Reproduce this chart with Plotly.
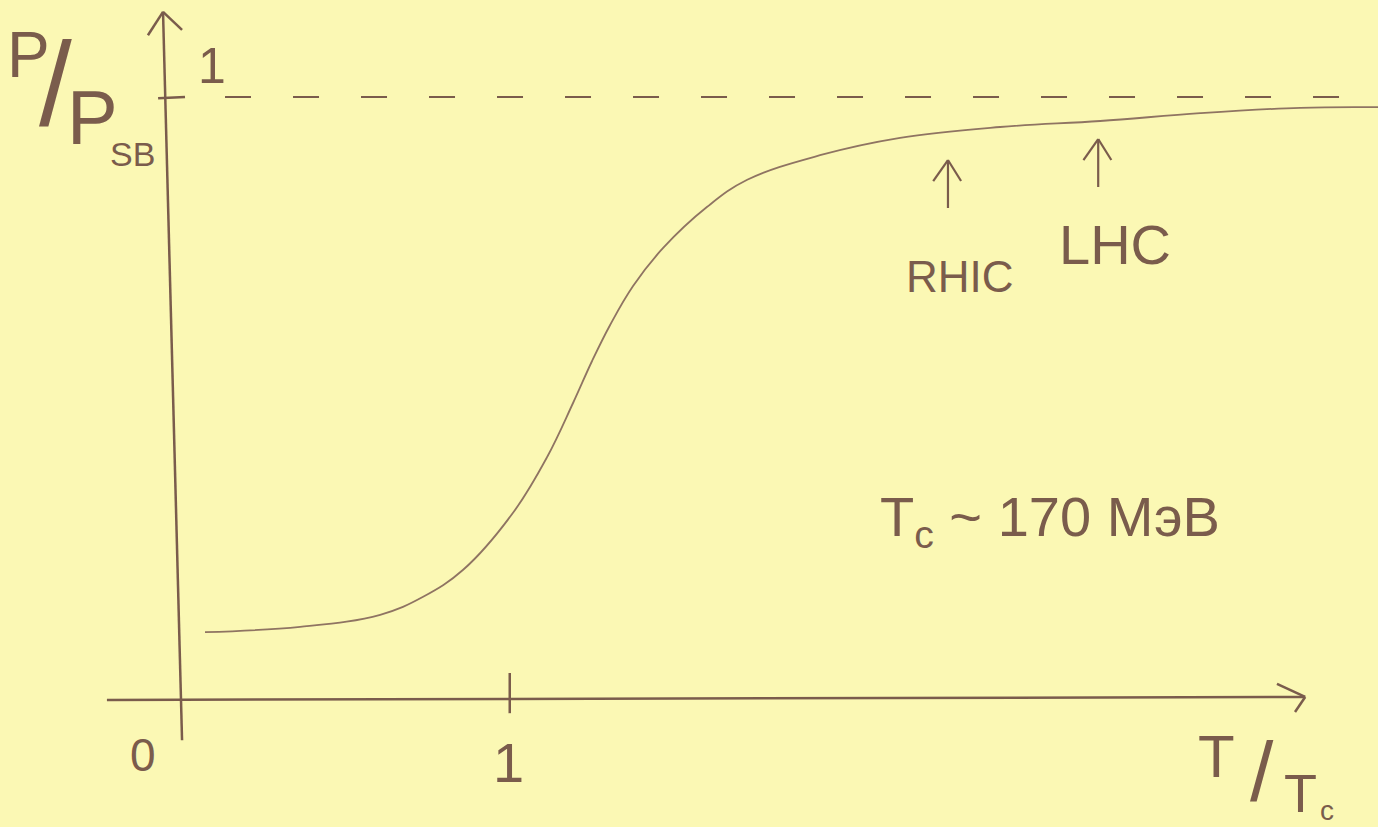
import plotly.graph_objects as go

# --- data ---
t_over_tc = [0.070, 0.360, 0.604, 0.735, 0.857, 1.009, 1.113, 1.192, 1.250, 1.305,
             1.375, 1.466, 1.601, 1.723, 1.945, 2.189, 2.494, 2.799, 3.104, 3.409, 3.646]
p_over_psb = [0.108, 0.117, 0.137, 0.167, 0.212, 0.307, 0.400, 0.490, 0.560, 0.620,
              0.685, 0.748, 0.817, 0.862, 0.903, 0.932, 0.950, 0.960, 0.973, 0.982, 0.983]
sb_limit_x = [0.131, 3.576]
sb_limit_y = [1.0, 1.0]
x_tick_labels = ["0", "1"]
y_tick_labels = ["1"]
experiments = ["RHIC", "LHC"]
experiment_x = [2.335, 2.793]

INK = "#7a5c4c"
CURVE = "#8f7462"
BG = "#fbf8b4"
W, H = 1378, 827
XR = [-0.555, 3.646]
YR = [-0.2167, 1.1617]
FONT = "Liberation Sans"

fig = go.Figure()

# S-shaped curve
fig.add_trace(go.Scatter(x=t_over_tc, y=p_over_psb, mode="lines",
                         line=dict(color=CURVE, width=1.8, shape="spline", smoothing=1.1),
                         hoverinfo="skip", showlegend=False))
# dashed Stefan-Boltzmann limit
fig.add_trace(go.Scatter(x=sb_limit_x, y=sb_limit_y, mode="lines",
                         line=dict(color=INK, width=2, dash="26px,42px"),
                         hoverinfo="skip", showlegend=False))

shapes = []
def seg(x0, y0, x1, y1, w=2.5):
    shapes.append(dict(type="line", xref="x", yref="y", x0=x0, y0=y0, x1=x1, y1=y1,
                       line=dict(color=INK, width=w)))

# x axis with arrow
seg(-0.229, -0.005, 3.424, 0.0)
seg(3.424, 0.0, 3.338, 0.022)
seg(3.424, 0.0, 3.393, -0.025)
# y axis with arrow
seg(0.0, -0.072, -0.058, 1.142)
seg(-0.058, 1.142, -0.104, 1.103)
seg(-0.058, 1.142, 0.0, 1.112)
# ticks
seg(-0.073, 0.998, 0.009, 1.0)
seg(0.999, 0.04, 0.999, -0.027)
# experiment arrows
for ex in experiment_x:
    top = 0.895 if ex < 2.5 else 0.93
    seg(ex, top - 0.08, ex, top, 2.2)
    seg(ex, top, ex - 0.045, top - 0.035, 2.2)
    seg(ex, top, ex + 0.04, top - 0.035, 2.2)

ann = []
def txt(px, py, s, size):
    ann.append(dict(x=px / W, y=1 - py / H, xref="paper", yref="paper", text=s,
                    showarrow=False, xanchor="center", yanchor="middle",
                    font=dict(family=FONT, size=size, color=INK)))

# axis labels
txt(28, 55, "P", 64)
txt(55, 84, "/", 118)
txt(92, 118, "P", 76)
txt(132, 154, "SB", 34)
txt(1216, 756, "T", 60)
txt(1262, 772, "/", 84)
txt(1300, 793, "T", 54)
txt(1327, 810, "c", 28)
# tick labels
txt(143, 755, x_tick_labels[0], 46)
txt(508, 762, x_tick_labels[1], 56)
txt(212, 66, y_tick_labels[0], 50)
# experiments
txt(960, 276, experiments[0], 44)
txt(1115, 245, experiments[1], 56)
# Tc annotation
txt(1050, 520, "T<sub>c</sub> ~ 170 МэВ", 56)

fig.update_layout(
    width=W, height=H, margin=dict(l=0, r=0, t=0, b=0),
    paper_bgcolor=BG, plot_bgcolor=BG,
    xaxis=dict(range=XR, visible=False, fixedrange=True),
    yaxis=dict(range=YR, visible=False, fixedrange=True),
    shapes=shapes, annotations=ann, showlegend=False,
)
fig.write_html("out.html", config={"displayModeBar": False},
               post_script="document.body.style.margin='0';document.body.style.overflow='hidden';"
                           "document.body.style.background='" + BG + "';")
